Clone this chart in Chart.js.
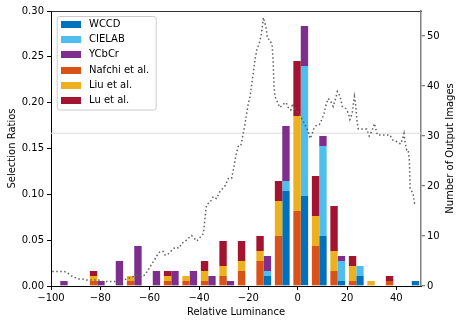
<!DOCTYPE html>
<html>
<head>
<meta charset="utf-8">
<script src="https://cdn.jsdelivr.net/npm/chart.js@4/dist/chart.umd.min.js"></script>
<style>
html,body{margin:0;padding:0;background:#ffffff;}
canvas{display:block;}
</style>
</head>
<body>
<canvas id="c" width="463" height="325"></canvas>
<script>
// ---- data ----
const binCenters = [-96.25,-88.75,-81.25,-73.75,-66.25,-58.75,-51.25,-43.75,-36.25,-28.75,-21.25,-13.75,-6.25,1.25,8.75,16.25,23.75,31.25,38.75,46.25];
const wccd   = [0,0,0,0,0,0,0,0,0,0,0,2,19,18,10,1,2,0,0,1];
const cielab = [0,0,0,0,0,0,0,0,0,0,0,1,2,26,18,4,2,0,0,0];
const ycbcr  = [1,0,1,5,8,3,3,3,2,1,0,3,11,8,2,1,0,0,0,0];
const nafchi = [0,0,1,0,1,0,1,1,1,2,3,5,10,15,8,3,1,0,1,0];
const liu    = [0,0,1,0,1,0,1,1,2,2,2,2,7,19,6,4,3,1,0,0];
const lu     = [0,0,1,0,0,0,1,0,2,5,4,3,4,11,8,9,2,0,1,0];

const curveX = [-99.5,-97.7,-96.1,-94.5,-93.0,-91.6,-90.3,-88.6,-87.2,-85.6,-84.0,-82.3,-80.7,-79.1,-77.4,-75.8,-74.2,-72.6,-71.2,-70.4,-69.1,-67.7,-66.1,-64.8,-63.4,-61.8,-61.0,-60.2,-59.4,-58.5,-57.7,-56.9,-55.8,-54.5,-53.8,-52.9,-51.5,-49.8,-48.0,-47.1,-45.7,-44.4,-43.0,-40.9,-38.2,-37.2,-36.9,-35.6,-34.2,-32.9,-31.5,-29.5,-28.1,-26.8,-25.8,-25.0,-24.1,-23.1,-22.7,-22.1,-21.4,-20.7,-20.0,-19.3,-18.7,-18.0,-17.3,-16.6,-15.6,-14.9,-14.3,-13.9,-13.5,-12.9,-12.2,-11.2,-10.3,-9.9,-9.6,-9.2,-8.3,-7.2,-5.8,-4.7,-3.8,-2.8,-2.0,-1.1,0.3,1.6,3.0,4.3,5.0,5.7,6.6,7.7,8.8,9.7,10.7,11.5,12.4,13.4,14.4,15.4,16.1,17.2,18.1,19.5,20.6,21.2,22.1,22.6,23.0,23.6,24.0,24.6,26.0,28.0,29.0,30.0,31.1,31.8,32.3,34.1,36.1,37.4,38.5,40.1,41.7,42.6,43.1,43.5,44.2,44.8,45.3,45.6,46.8,47.4,48.4];
const curveY = [2.9,2.9,2.9,2.9,2.5,2.0,1.7,1.4,1.4,1.2,1.2,1.2,1.2,0.9,0.9,0.9,0.9,0.7,0.9,1.3,1.4,1.7,2.0,2.3,2.0,2.2,3.0,3.5,4.2,4.9,5.5,6.2,6.9,6.9,6.2,6.2,6.9,7.7,7.6,8.5,8.9,9.5,10.1,9.0,10.5,15.4,16.3,16.7,17.9,17.5,18.9,20.0,21.5,21.5,23.9,26.2,27.9,28.0,28.9,30.5,32.2,34.5,36.5,37.9,40.2,42.5,45.2,47.2,48.5,49.9,51.9,53.7,52.9,51.9,49.5,49.2,47.9,44.5,40.0,37.9,36.9,35.7,36.4,36.7,35.7,35.2,36.5,35.5,34.5,33.5,32.2,30.9,29.5,30.2,31.5,32.2,32.3,33.2,34.5,36.2,37.5,36.9,35.9,37.5,38.9,37.9,35.9,35.5,34.5,33.3,34.5,36.5,37.9,35.9,33.2,31.4,31.4,31.4,30.0,30.9,32.5,31.2,30.2,30.2,30.2,30.2,29.2,28.9,28.4,29.5,30.5,28.9,27.2,27.2,25.0,19.5,18.5,16.5,16.4];

const chanceLevel = 1 / 6;
const xTickValues = [-100,-80,-60,-40,-20,0,20,40];
const ratioTickValues = [0,0.05,0.10,0.15,0.20,0.25,0.30];
const countTickValues = [0,10,20,30,40,50];
const legendOrder = ['WCCD','CIELAB','YCbCr','Nafchi et al.','Liu et al.','Lu et al.'];

// ---- styles ----
const COLORS = {
  'WCCD':'#0072BD','CIELAB':'#4DBEEE','YCbCr':'#7E2F8E',
  'Nafchi et al.':'#D95319','Liu et al.':'#EDB120','Lu et al.':'#A2142F'
};
Chart.defaults.font.family = "'DejaVu Sans', sans-serif";
Chart.defaults.font.size = 10;
Chart.defaults.color = '#000000';

function barSet(label, values, stack) {
  return { type:'bar', label, data: values, backgroundColor: COLORS[label], borderWidth: 0,
           stack, yAxisID:'y1', categoryPercentage:0.8, barPercentage:1.0 };
}
function patch(color) {
  const c = document.createElement('canvas');
  c.width = 23; c.height = 7;
  const g = c.getContext('2d');
  g.fillStyle = color; g.fillRect(0,0,20,7);
  return c;
}

const curveData = curveX.map((x,i)=>({x, y: curveY[i]}));

const datasets = [
  { type:'line', label:'curve', data: curveData, yAxisID:'y1', borderColor:'#606060', borderWidth:1.5,
    borderDash:[1.5,2.5], pointRadius:0, fill:false, tension:0 },
  barSet('Nafchi et al.', nafchi, 'A'),
  barSet('Liu et al.', liu, 'A'),
  barSet('Lu et al.', lu, 'A'),
  barSet('WCCD', wccd, 'B'),
  barSet('CIELAB', cielab, 'B'),
  barSet('YCbCr', ycbcr, 'B'),
  { type:'line', label:'chance', data:[{x:-100,y:chanceLevel},{x:50,y:chanceLevel}], yAxisID:'y',
    borderColor:'#dcdcdc', borderWidth:1, pointRadius:0, fill:false }
];

const layoutPlugin = {
  id:'layoutTweaks',
  afterLayout(chart) {
    const lg = chart.legend;
    if (lg) { lg.left = chart.chartArea.left + 4.8; lg.top = chart.chartArea.top + 3.2; }
  },
  beforeDraw(chart) {
    const lg = chart.legend; if (!lg) return;
    const ctx = chart.ctx;
    const x = lg.left + 1.4, y = lg.top + 2.3, w = 99, h = 93.5, r = 2.5;
    ctx.save();
    ctx.beginPath();
    ctx.moveTo(x + r, y); ctx.lineTo(x + w - r, y); ctx.arcTo(x + w, y, x + w, y + r, r);
    ctx.lineTo(x + w, y + h - r); ctx.arcTo(x + w, y + h, x + w - r, y + h, r);
    ctx.lineTo(x + r, y + h); ctx.arcTo(x, y + h, x, y + h - r, r);
    ctx.lineTo(x, y + r); ctx.arcTo(x, y, x + r, y, r);
    ctx.closePath();
    ctx.fillStyle = 'rgba(255,255,255,0.8)'; ctx.fill();
    ctx.strokeStyle = '#cccccc'; ctx.lineWidth = 1; ctx.stroke();
    ctx.restore();
  },
  afterDraw(chart) {
    const s = chart.scales.y1, ctx = chart.ctx;
    ctx.save();
    ctx.translate(s.right - 13, (chart.chartArea.top + chart.chartArea.bottom) / 2);
    ctx.rotate(-Math.PI / 2);
    ctx.font = "10px 'DejaVu Sans'";
    ctx.fillStyle = '#000'; ctx.textAlign = 'center'; ctx.textBaseline = 'middle';
    ctx.fillText('Number of Output Images', 0, 0);
    ctx.restore();
  }
};

new Chart(document.getElementById('c'), {
  type:'bar',
  data:{ labels: binCenters, datasets },
  options:{
    responsive:false, animation:false, devicePixelRatio:1,
    layout:{ padding:{ top:11, left:0, right:0, bottom:0 } },
    plugins:{
      tooltip:{ enabled:false },
      legend:{
        position:'chartArea', align:'start',
        labels:{
          usePointStyle:true, pointStyleWidth:23, boxHeight:7, padding:5.2,
          font:{ size:10 }, color:'#000',
          generateLabels: (chart) => legendOrder.map(name => {
            const i = chart.data.datasets.findIndex(d => d.label === name);
            return { text:name, pointStyle: patch(COLORS[name]), fillStyle: COLORS[name],
                     strokeStyle: COLORS[name], lineWidth:0, hidden:false, datasetIndex:i, fontColor:'#000' };
          })
        }
      }
    },
    scales:{
      x:{
        type:'linear', position:'bottom', min:-100, max:50, stacked:true, offset:false,
        afterBuildTicks: s => { s.ticks = xTickValues.map(v => ({value:v})); },
        afterFit: s => { s.height = 39; },
        ticks:{ padding:2, color:'#000', maxRotation:0,
                callback: v => v < 0 ? '\u2212' + Math.abs(v) : String(v) },
        grid:{ display:true, offset:false, drawOnChartArea:false, drawTicks:true, tickLength:4, color:'#000', lineWidth:1 },
        border:{ display:true, color:'#000', width:1 },
        title:{ display:true, text:'Relative Luminance', color:'#000', font:{size:10}, padding:{top:0, bottom:7} }
      },
      x2:{
        type:'linear', position:'top', min:-100, max:50, display:true, offset:false,
        ticks:{ display:false }, grid:{ display:false, drawTicks:false },
        border:{ display:true, color:'#333333', width:1 }
      },
      y:{
        type:'linear', position:'left', min:0, max:0.30, stacked:false,
        afterBuildTicks: s => { s.ticks = ratioTickValues.map(v => ({value:v})); },
        afterFit: s => { s.width = 51; },
        ticks:{ padding:3, color:'#000', callback: v => Number(v).toFixed(2) },
        grid:{ display:true, drawOnChartArea:false, drawTicks:true, tickLength:4, color:'#000', lineWidth:1 },
        border:{ display:true, color:'#000', width:1 },
        title:{ display:true, text:'Selection Ratios', color:'#000', font:{size:10}, padding:{top:6, bottom:0} }
      },
      y1:{
        type:'linear', position:'right', min:0, max:55, stacked:true,
        afterBuildTicks: s => { s.ticks = countTickValues.map(v => ({value:v})); },
        afterFit: s => { s.width = 42; },
        ticks:{ padding:2, color:'#000', callback: v => String(v) },
        grid:{ display:true, drawOnChartArea:false, drawTicks:true, tickLength:4, color:'#808080', lineWidth:1.3 },
        border:{ display:true, color:'#808080', width:1.5 },
        title:{ display:false }
      }
    }
  },
  plugins:[layoutPlugin]
});
</script>
</body>
</html>
